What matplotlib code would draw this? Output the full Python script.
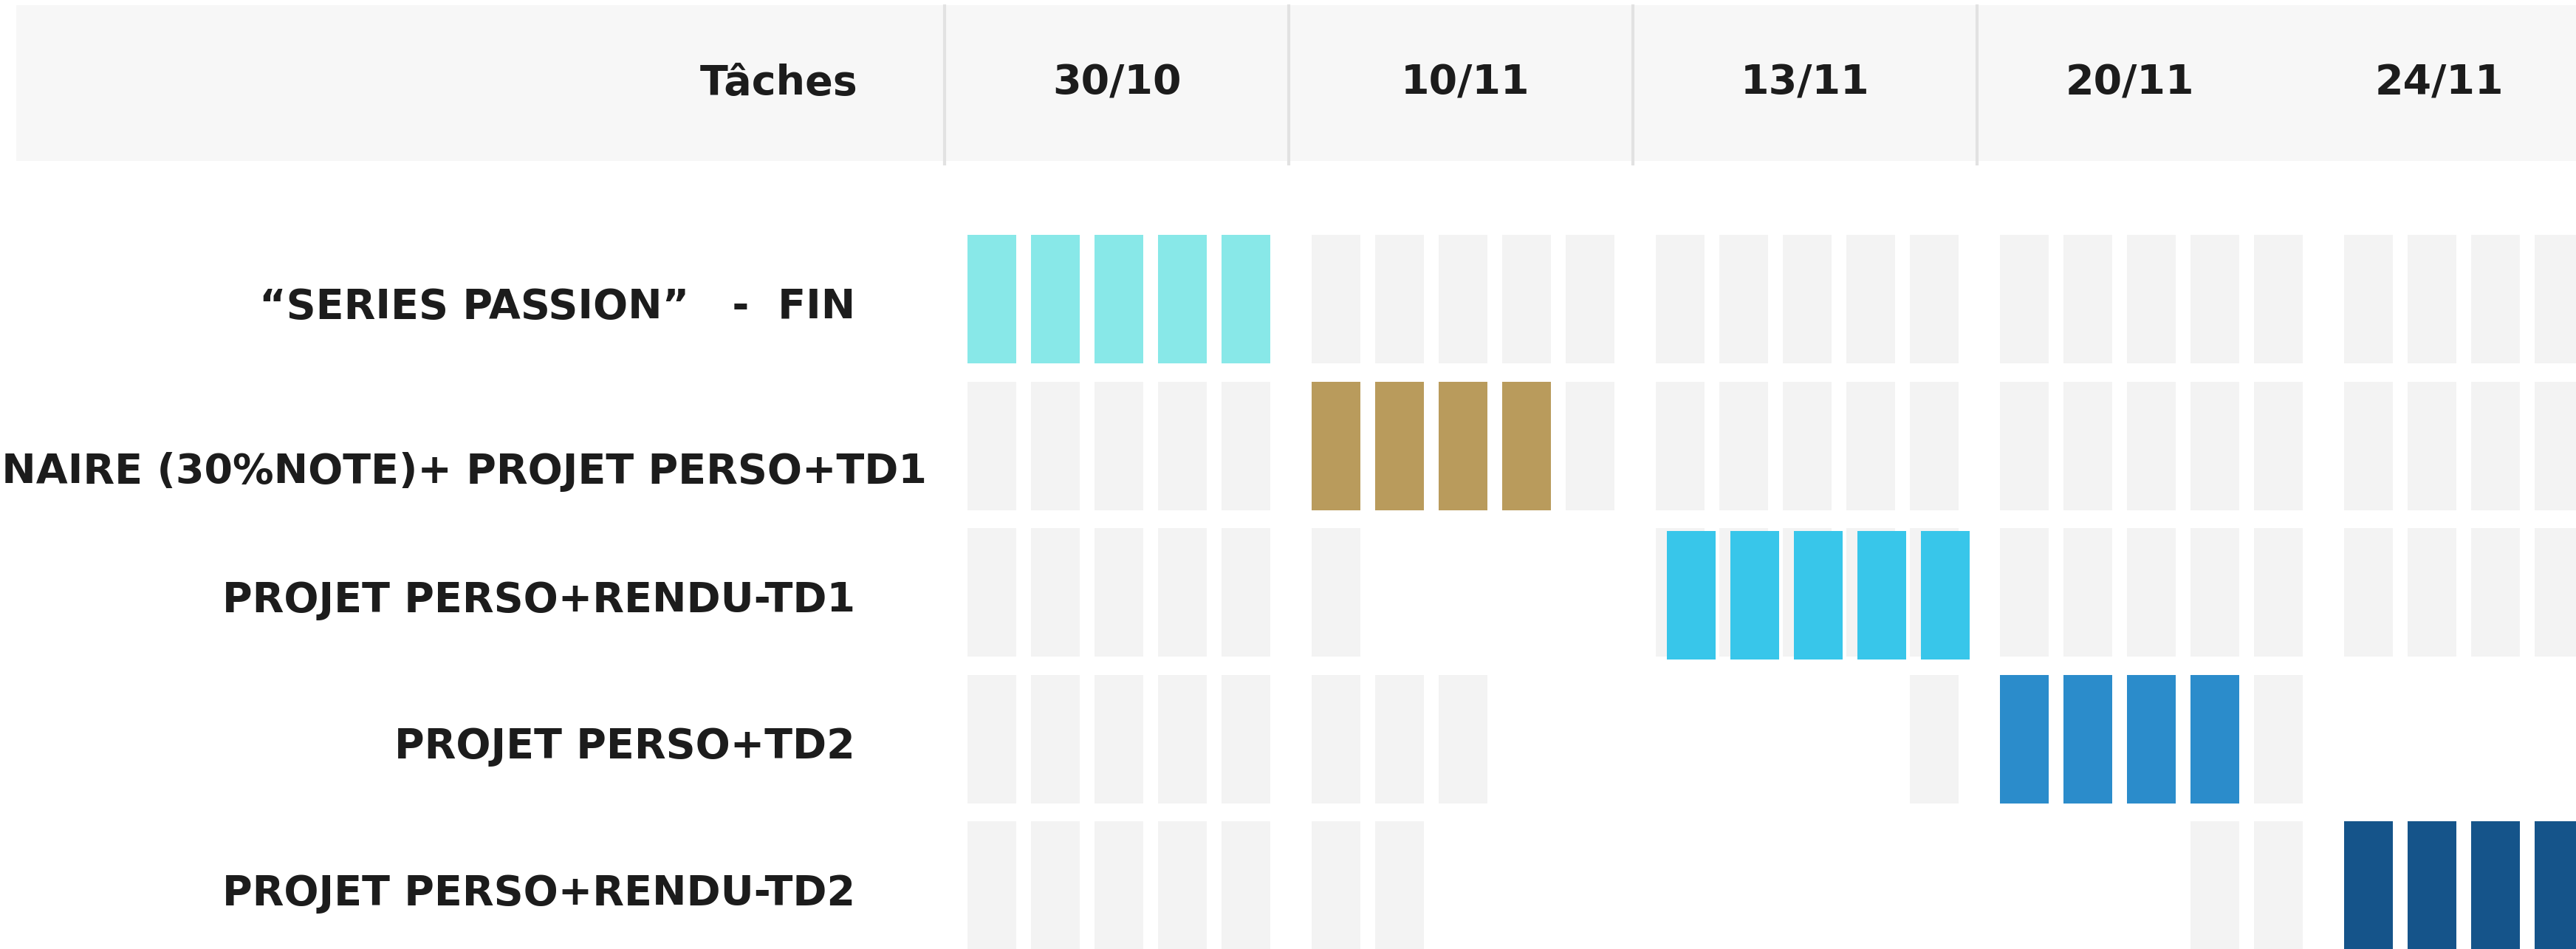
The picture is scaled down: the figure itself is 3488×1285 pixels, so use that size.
import matplotlib
matplotlib.use("Agg")
import matplotlib.pyplot as plt
from matplotlib.patches import Rectangle

# ---------------- data ----------------
dates = ["30/10", "10/11", "13/11", "20/11", "24/11"]
tasks = [
    "\u201cSERIES PASSION\u201d   -  FIN",
    "QUESTIONNAIRE (30%NOTE)+ PROJET PERSO+TD1",
    "PROJET PERSO+RENDU-TD1",
    "PROJET PERSO+TD2",
    "PROJET PERSO+RENDU-TD2",
]
header_label = "T\u00e2ches"
# background day slots shown per task row: one 5-day block per date column
slot_mask = [
    ["11111", "11111", "11111", "11111", "11111"],
    ["11111", "11111", "11111", "11111", "11111"],
    ["11111", "10000", "11111", "11111", "11111"],
    ["11111", "11100", "00001", "11111", "00000"],
    ["11111", "11000", "00000", "00011", "11111"],
]
task_start_col = [0, 1, 2, 3, 4]
task_start_day = [0, 0, 0, 0, 0]
task_days = [5, 4, 5, 4, 5]
task_colors = ["#88E8E8", "#B99B5C", "#38C6EA", "#2B8CCB", "#15548A"]

# ---------------- layout / style ----------------
W, H = 3488, 1285
HEADER_LEFT, HEADER_TOP, HEADER_BOT = 22, 7, 218
SEP0, COL_W = 1279, 466
SLOT_PAD, SLOT_STEP, SLOT_W = 31, 86, 66
ROW_TOP0, ROW_STEP, BAR_H = 318, 198.5, 174
LABEL_RIGHT = [1158, 1255, 1158, 1158, 1158]
LABEL_DY = [11, 35, 11, 11, 11]
DATE_DX = [0, 6, 0, -26, -73]
BAR_DX = [0, 0, 15, 0, 0]
BAR_DY = [0, 0, 4, 0, 0]
GRAY = "#F3F3F3"
HEADER_BG = "#F7F7F7"
SEP_COLOR = "#E2E2E2"
TEXT_COLOR = "#1C1C1C"
FONT = "DejaVu Sans"
FS = 40

fig = plt.figure(figsize=(W / 100, H / 100), dpi=100)
ax = fig.add_axes([0, 0, 1, 1])
ax.set_xlim(0, W)
ax.set_ylim(H, 0)
ax.axis("off")


def slot_x(col, day):
    return SEP0 + col * COL_W + SLOT_PAD + day * SLOT_STEP


def row_top(r):
    return ROW_TOP0 + r * ROW_STEP


# header band
ax.add_patch(Rectangle((HEADER_LEFT, HEADER_TOP), W - HEADER_LEFT, HEADER_BOT - HEADER_TOP,
                       facecolor=HEADER_BG, edgecolor="none", zorder=0))
for c in range(len(dates) - 1):
    xs = SEP0 + c * COL_W
    ax.plot([xs, xs], [HEADER_TOP - 1, HEADER_BOT + 6], color=SEP_COLOR, lw=3, zorder=1,
            solid_capstyle="butt")
header_y = (HEADER_TOP + HEADER_BOT) / 2
ax.text(1161, header_y, header_label, ha="right", va="center", fontsize=FS,
        fontweight="bold", family=FONT, color=TEXT_COLOR)
for c, d in enumerate(dates):
    ax.text(SEP0 + c * COL_W + COL_W / 2 + DATE_DX[c], header_y, d, ha="center", va="center",
            fontsize=FS, fontweight="bold", family=FONT, color=TEXT_COLOR)

# background slots
for r, mask in enumerate(slot_mask):
    xs = []
    for c, m in enumerate(mask):
        for d, ch in enumerate(m):
            if ch == "1":
                xs.append(slot_x(c, d))
    ax.bar(xs, [BAR_H] * len(xs), width=SLOT_W, bottom=row_top(r), align="edge",
           color=GRAY, edgecolor="none", zorder=2)

# task bars
for r in range(len(tasks)):
    xs = [slot_x(task_start_col[r], task_start_day[r] + k) + BAR_DX[r] for k in range(task_days[r])]
    ax.bar(xs, [BAR_H] * len(xs), width=SLOT_W, bottom=row_top(r) + BAR_DY[r], align="edge",
           color=task_colors[r], edgecolor="none", zorder=3)

# task labels
for r, t in enumerate(tasks):
    ax.text(LABEL_RIGHT[r], row_top(r) + BAR_H / 2 + LABEL_DY[r], t, ha="right", va="center",
            fontsize=FS, fontweight="bold", family=FONT, color=TEXT_COLOR, clip_on=False)

fig.savefig("out.png", dpi=100, facecolor="white")
